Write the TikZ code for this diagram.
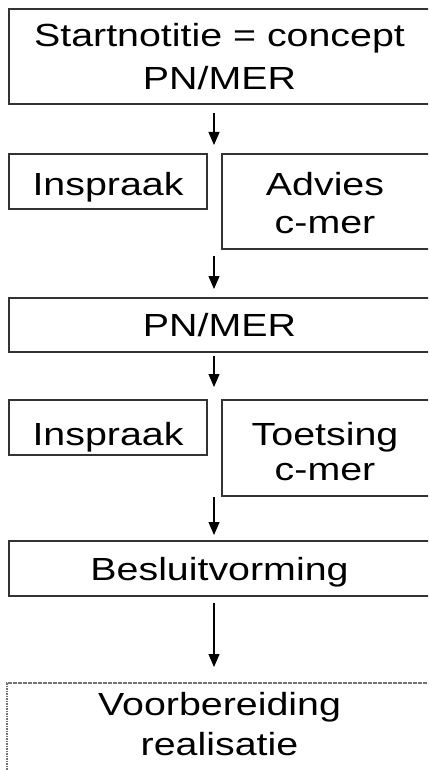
\documentclass[tikz,border=0pt]{standalone}
\usepackage{fontspec}
\setmainfont{Liberation Sans}
\usetikzlibrary{arrows.meta}
\newcommand{\widetxt}[1]{\scalebox{1.23}[1]{#1}}
\begin{document}
\begin{tikzpicture}[x=1pt,y=-1pt,
  box/.style={draw=black!80, line width=1.3pt, inner sep=0pt, outer sep=0pt, anchor=north west},
  dotbox/.style={draw=black!55, line width=1.3pt, dash pattern=on 1.6pt off 0.9pt, inner sep=0pt, outer sep=0pt, anchor=north west},
  lbl/.style={anchor=base, inner sep=0pt, font=\fontsize{32}{36}\selectfont, text=black},
  arr/.style={draw=black, line width=1.1pt, -{Triangle[width=11pt,length=13pt]}}]
\useasboundingbox (0,0) rectangle (428,770);
\clip (0,0) rectangle (428,770);
\fill[white] (0,0) rectangle (428,770);
% boxes
\node[box, minimum width=421pt, minimum height=95pt] (start) at (9,9) {};
\node[box, minimum width=198pt, minimum height=55pt] (insp1) at (9,154) {};
\node[box, minimum width=208pt, minimum height=95pt] (advies) at (222,154) {};
\node[box, minimum width=421pt, minimum height=54pt] (pnmer) at (9,298) {};
\node[box, minimum width=198pt, minimum height=55pt] (insp2) at (9,400) {};
\node[box, minimum width=208pt, minimum height=96pt] (toets) at (222,400) {};
\node[box, minimum width=421pt, minimum height=55pt] (besl) at (9,541) {};
\node[dotbox, minimum width=425pt, minimum height=100pt] (voorb) at (7,683) {};
% texts
\node[lbl] (t1a) at (219.5,47) {\widetxt{Startnotitie = concept}};
\node[lbl] (t1b) at (219.5,90) {\widetxt{PN/MER}};
\node[lbl] (t2) at (108,195) {\widetxt{Inspraak}};
\node[lbl] (t3a) at (325,195) {\widetxt{Advies}};
\node[lbl] (t3b) at (325,233) {\widetxt{c-mer}};
\node[lbl] (t4) at (219.5,336) {\widetxt{PN/MER}};
\node[lbl] (t5) at (108,445) {\widetxt{Inspraak}};
\node[lbl] (t6a) at (325,445) {\widetxt{Toetsing}};
\node[lbl] (t6b) at (325,480) {\widetxt{c-mer}};
\node[lbl] (t7) at (219.5,580) {\widetxt{Besluitvorming}};
\node[lbl] (t8a) at (219.5,715) {\widetxt{Voorbereiding}};
\node[lbl] (t8b) at (219.5,755) {\widetxt{realisatie}};
% arrows
\coordinate (ax) at (214,0);
\draw[arr, shorten <=9pt, shorten >=9pt] (start.south -| ax) -- (insp1.north -| ax);
\draw[arr, shorten <=7pt, shorten >=9pt] (advies.south -| ax) -- (pnmer.north -| ax);
\draw[arr, shorten <=4pt, shorten >=13pt] (pnmer.south -| ax) -- (insp2.north -| ax);
\draw[arr, shorten <=1pt, shorten >=6pt] (toets.south -| ax) -- (besl.north -| ax);
\draw[arr, shorten <=7pt, shorten >=16pt] (besl.south -| ax) -- (voorb.north -| ax);
\end{tikzpicture}
\end{document}
